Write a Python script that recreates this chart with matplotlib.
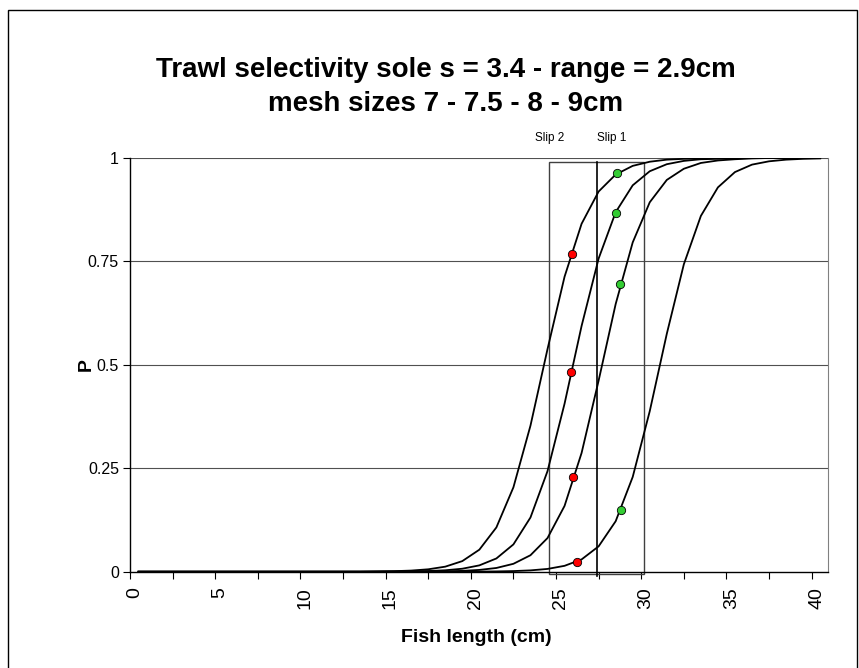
"""Trawl selectivity curves for sole, four mesh sizes, with the two slip boxes."""
import matplotlib
matplotlib.use("Agg")
import matplotlib.pyplot as plt
from matplotlib.patches import Rectangle
from matplotlib.ticker import MultipleLocator
from matplotlib.transforms import ScaledTranslation
import numpy as np

plt.rcParams["font.family"] = ["Liberation Sans", "DejaVu Sans"]
NARROW = ["Liberation Sans Narrow", "Liberation Sans", "DejaVu Sans"]

# length classes 0..40 cm, plotted at the class middle
length = np.arange(0, 41) + 0.5

# retention probability per length class, one list per mesh size
p_mesh_7 = [0.0] * 14 + [
    0.0006, 0.0013, 0.0027, 0.0058, 0.0122, 0.0256, 0.0532, 0.107, 0.204,
    0.353, 0.538, 0.713, 0.841, 0.919, 0.960, 0.981, 0.991, 0.996, 0.998,
    0.999, 1.0, 1.0, 1.0, 1.0, 1.0, 1.0, 1.0]
p_mesh_75 = [0.0] * 14 + [
    0.0002, 0.0004, 0.0007, 0.0016, 0.0034, 0.0072, 0.0153, 0.032, 0.066,
    0.131, 0.243, 0.406, 0.594, 0.757, 0.869, 0.934, 0.968, 0.985, 0.993,
    0.997, 0.998, 0.999, 1.0, 1.0, 1.0, 1.0, 1.0]
p_mesh_8 = [0.0] * 17 + [
    0.0004, 0.0009, 0.0020, 0.0043, 0.0090, 0.0191, 0.0398, 0.0813, 0.159,
    0.287, 0.462, 0.647, 0.796, 0.893, 0.947, 0.974, 0.988, 0.994, 0.997,
    0.999, 1.0, 1.0, 1.0, 1.0]
p_mesh_9 = [0.0] * 20 + [
    0.0003, 0.0007, 0.0015, 0.0032, 0.0067, 0.0142, 0.0297, 0.0613, 0.122,
    0.229, 0.388, 0.575, 0.743, 0.860, 0.929, 0.966, 0.984, 0.992, 0.996,
    0.998, 0.999]
curves = [p_mesh_7, p_mesh_75, p_mesh_8, p_mesh_9]

# marked points on each curve
red_x = [25.96, 25.88, 26.02, 26.21]
red_p = [0.768, 0.483, 0.228, 0.023]
green_x = [28.56, 28.52, 28.76, 28.81]
green_p = [0.963, 0.867, 0.695, 0.149]

# slip boxes: left edge, divider, right edge, top
slip_left, slip_mid, slip_right, slip_top = 24.6, 27.41, 30.18, 0.99

y_ticks = [0, 0.25, 0.5, 0.75, 1]
y_labels = ["0", "0.25", "0.5", "0.75", "1"]

fig = plt.figure(figsize=(8.59, 6.68), dpi=100)
ax = fig.add_axes([130 / 859, 1 - 571.7 / 668, 698 / 859, 413.7 / 668])

for yv in y_ticks[1:]:
    ax.axhline(yv, color="#505050", lw=0.8, zorder=1)

ax.add_patch(Rectangle((slip_left, -0.006), slip_right - slip_left, slip_top + 0.006,
                       fill=False, edgecolor="#404040", lw=1.0, zorder=2, clip_on=False))
ax.plot([slip_mid, slip_mid], [-0.01, slip_top], color="black", lw=1.2, zorder=2,
        clip_on=False)

for p in curves:
    ax.plot(length, p, color="black", lw=1.3, zorder=3)

ax.plot(red_x, red_p, "o", ms=6, mfc="#ff0000", mec="black", mew=0.6, zorder=4)
ax.plot(green_x, green_p, "o", ms=6, mfc="#33cc33", mec="black", mew=0.6, zorder=4)

ax.text(slip_left, 1.035, "Slip 2", ha="center", va="bottom", fontsize=8.5)
ax.text(28.25, 1.035, "Slip 1", ha="center", va="bottom", fontsize=8.5)

ax.set_xlim(0, 40.96)
ax.set_ylim(0, 1)
ax.xaxis.set_major_locator(MultipleLocator(5))
ax.xaxis.set_minor_locator(MultipleLocator(2.5))
ax.set_yticks(y_ticks)
ax.set_yticklabels(y_labels)
ax.tick_params(axis="x", which="both", direction="out", length=5, width=0.8,
               labelsize=14, labelrotation=90, pad=6)
ax.tick_params(axis="y", direction="out", length=5, width=0.8, labelsize=11.5, pad=3)
shift = ScaledTranslation(3.5 / 72, 0, fig.dpi_scale_trans)
for lab in ax.get_xticklabels():
    lab.set_transform(lab.get_transform() + shift)

ax.spines["top"].set_visible(False)
ax.spines["right"].set_color("#808080")
ax.spines["left"].set_linewidth(1.0)
ax.spines["bottom"].set_linewidth(1.0)

fig.text(446 / 859, 1 - 70 / 668, "Trawl selectivity sole s = 3.4 - range = 2.9cm",
         ha="center", va="center", fontsize=20, fontweight="bold", family=NARROW)
fig.text(446 / 859, 1 - 104 / 668, "mesh sizes 7 - 7.5 - 8 - 9cm",
         ha="center", va="center", fontsize=20, fontweight="bold", family=NARROW)
fig.text(476 / 859, 1 - 637 / 668, "Fish length (cm)", ha="center", va="center",
         fontsize=14, fontweight="bold", family=NARROW)
fig.text(86 / 859, 1 - 365 / 668, "P", ha="center", va="center", rotation=90,
         fontsize=14, fontweight="bold", family=NARROW)

# outer chart border
fig.add_artist(Rectangle((8 / 859, -0.01), 849 / 859, 1 - 10 / 668 + 0.01,
                         transform=fig.transFigure, fill=False, edgecolor="black", lw=1.0))

fig.savefig("out.png", dpi=100)
